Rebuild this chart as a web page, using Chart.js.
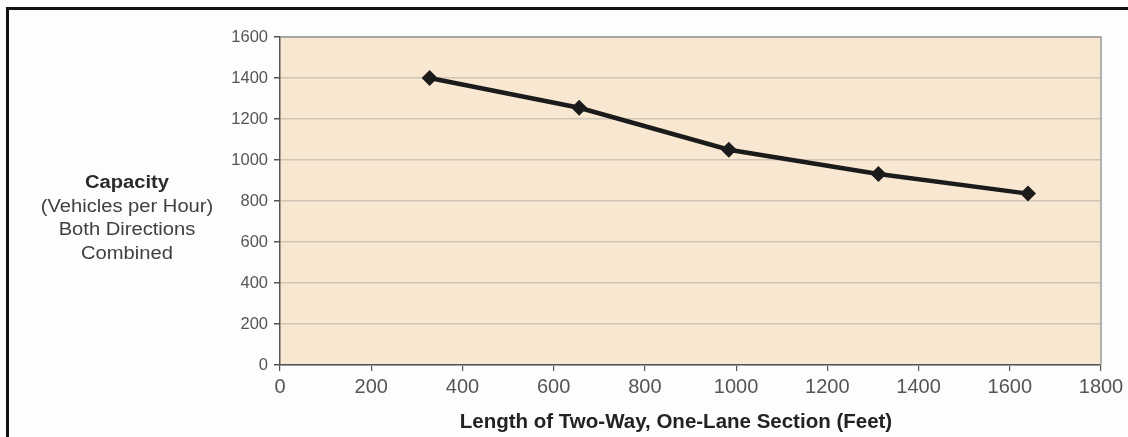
<!DOCTYPE html>
<html>
<head>
<meta charset="utf-8">
<script src="https://cdn.jsdelivr.net/npm/chart.js@4/dist/chart.umd.min.js"></script>
<style>
  html, body { margin: 0; padding: 0; background: #fdfdfd; }
  #wrap { position: relative; width: 1128px; height: 437px; overflow: hidden; background: #fdfdfd; }
  #frame { position: absolute; left: 6px; top: 7px; width: 1200px; height: 500px; border-left: 3px solid #111; border-top: 3px solid #111; box-sizing: border-box; }
  #chart { position: absolute; left: 0; top: 0; }
  #ylab { position: absolute; left: 27px; top: 171px; width: 200px; text-align: center; font-family: "Liberation Sans", Arial, sans-serif; font-size: 18px; line-height: 23.5px; color: #404040; transform: scaleX(1.12); transform-origin: 100px 0; }
  #ylab b { font-weight: bold; color: #2a2a2a; }
  #xlab { position: absolute; left: 376px; top: 409px; width: 600px; text-align: center; font-family: "Liberation Sans", Arial, sans-serif; font-size: 20.5px; line-height: 24px; font-weight: bold; color: #222; white-space: nowrap; }
</style>
</head>
<body>
<div id="wrap">
  <div id="frame"></div>
  <canvas id="chart" width="1128" height="437"></canvas>
  <div id="ylab"><b>Capacity</b><br>(Vehicles per Hour)<br>Both Directions<br>Combined</div>
  <div id="xlab"></div>
</div>
<script>
const lengthsFeet = [328, 656, 984, 1312, 1640];
const capacityVph = [1400, 1255, 1050, 932, 836];
const xTickValues = [0, 200, 400, 600, 800, 1000, 1200, 1400, 1600, 1800];
const yTickValues = [0, 200, 400, 600, 800, 1000, 1200, 1400, 1600];
const xTitle = "Length of Two-Way, One-Lane Section (Feet)";

document.getElementById('xlab').textContent = xTitle;

const plotBg = {
  id: 'plotBg',
  beforeDraw(chart) {
    const {ctx, chartArea: a} = chart;
    ctx.save();
    ctx.fillStyle = '#f9e8d1';
    ctx.fillRect(a.left, a.top, a.right - a.left, a.bottom - a.top);
    ctx.restore();
  },
  beforeDatasetsDraw(chart) {
    const {ctx, chartArea: a} = chart;
    ctx.save();
    ctx.strokeStyle = '#9a9a9a';
    ctx.lineWidth = 1.5;
    ctx.beginPath();
    ctx.moveTo(a.left, a.top);
    ctx.lineTo(a.right, a.top);
    ctx.lineTo(a.right, a.bottom);
    ctx.stroke();
    ctx.restore();
  }
};

const font = "'Liberation Sans', Arial, sans-serif";

new Chart(document.getElementById('chart'), {
  type: 'scatter',
  data: {
    datasets: [{
      data: lengthsFeet.map((x, i) => ({x: x, y: capacityVph[i]})),
      showLine: true,
      borderColor: '#1b1b1b',
      borderWidth: 4.5,
      backgroundColor: '#1b1b1b',
      pointStyle: 'rectRot',
      pointRadius: 8,
      pointHoverRadius: 8,
      pointBorderWidth: 0,
      tension: 0
    }]
  },
  options: {
    responsive: false,
    animation: false,
    devicePixelRatio: 1,
    layout: { padding: { left: 0, right: 27, top: 37, bottom: 0 } },
    plugins: { legend: { display: false }, tooltip: { enabled: false } },
    scales: {
      x: {
        type: 'linear', min: 0, max: 1800,
        afterBuildTicks: (s) => { s.ticks = xTickValues.map(v => ({value: v})); },
        afterFit: (s) => { s.height = 72; },
        border: { display: true, color: '#555', width: 1.5 },
        grid: { drawOnChartArea: false, drawTicks: true, tickLength: 6, color: '#555', lineWidth: 1.2 },
        ticks: { color: '#555', font: { family: font, size: 20 }, padding: 4, maxRotation: 0, callback: (v) => String(v) },
        title: { display: false }
      },
      y: {
        type: 'linear', min: 0, max: 1600,
        afterBuildTicks: (s) => { s.ticks = yTickValues.map(v => ({value: v})); },
        afterFit: (s) => { s.width = 280; },
        border: { display: true, color: '#555', width: 1.5 },
        grid: { drawOnChartArea: true, color: '#cfc5b6', lineWidth: 1.5, drawTicks: true, tickLength: 6, tickColor: '#555' },
        ticks: { color: '#555', font: { family: font, size: 16.5 }, padding: 6, callback: (v) => String(v) }
      }
    }
  },
  plugins: [plotBg]
});
</script>
</body>
</html>
